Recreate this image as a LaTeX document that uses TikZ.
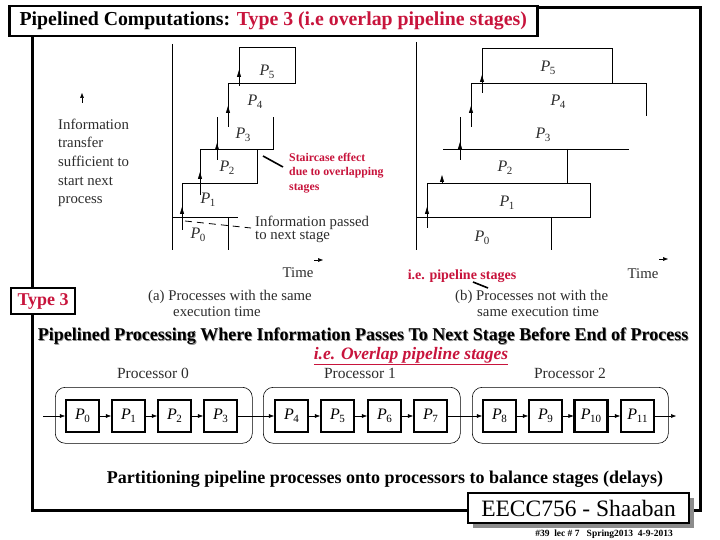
\documentclass[tikz,border=0pt]{standalone}
\usepackage{fontspec}
\setmainfont{Liberation Serif}
\usetikzlibrary{arrows.meta}
\definecolor{tred}{RGB}{200,20,60}
\definecolor{figtext}{RGB}{45,45,45}
\newcommand\PL[1]{{\itshape P}\kern-0.3pt\raisebox{-0.45ex}{\fontsize{11}{11}\selectfont #1}}
\begin{document}
\begin{tikzpicture}[x=1pt,y=-1pt,
  fl/.style={line width=0.8pt,black},
  upa/.style={line width=0.8pt,-{Triangle[length=7pt,width=4pt]}},
  sma/.style={line width=0.6pt,-{Triangle[length=5pt,width=3.6pt]}},
  ftxt/.style={anchor=base west,inner sep=0,text=figtext,font=\fontsize{14.8}{16}\selectfont},
  plab/.style={inner sep=0,text=figtext,font=\fontsize{16}{16}\selectfont},
  redb/.style={anchor=base west,inner sep=0,text=tred,font=\fontsize{11.8}{13}\bfseries},
  pbox/.style={draw,line width=2.2pt,minimum width=33pt,minimum height=32pt,inner sep=0,font=\fontsize{16}{16}\selectfont},
  grp/.style={draw,line width=0.6pt,rounded corners=10pt},
  plabel/.style={inner sep=0,font=\fontsize{15.5}{17}\selectfont,text=figtext}
]
\useasboundingbox (0,0) rectangle (720,540);
\fill[white] (0,0) rectangle (720,540);
% main frame
\draw[line width=3pt] (32,8) rectangle (700,510);
% title box
\node[draw,line width=2.5pt,fill=white,minimum width=528pt,minimum height=30pt,inner sep=0,anchor=north west,
  font=\fontsize{19.8}{22}\bfseries\selectfont] (title) at (8,5)
  {Pipelined Computations: \textcolor{tred}{Type 3 (i.e overlap pipeline stages)}};
% Type 3 box
\node[draw,line width=2.2pt,fill=white,minimum width=64pt,minimum height=26pt,inner sep=0,anchor=north west,
  text=tred,font=\fontsize{18}{20}\bfseries\selectfont] (type3) at (10,287) {Type 3};

% ---------- diagram (a) ----------
\draw[fl] (172,44) -- (172,250);
\draw[fl] (172,217) -- (238,217);
\draw[fl] (228,217) -- (228,250);
\draw[fl] (182,217) -- (182,183) -- (257,183) -- (257,149);
\draw[fl] (200,183) -- (200,149) -- (273,149) -- (273,117);
\draw[fl] (217,149) -- (217,117);
\draw[fl] (228,127) -- (228,83) -- (295,83) -- (295,47) -- (239,47) -- (239,83);
\coordinate (a1s) at (182,230); \coordinate (a1e) at (182,207);
\coordinate (a2s) at (200,195); \coordinate (a2e) at (200,172);
\coordinate (a3s) at (217,160); \coordinate (a3e) at (217,143);
\coordinate (a4s) at (228,127); \coordinate (a4e) at (228,106);
\coordinate (a5s) at (239,86);  \coordinate (a5e) at (239,70);
\draw[upa] (a1s) -- (a1e);
\draw[upa] (a2s) -- (a2e);
\draw[upa] (a3s) -- (a3e);
\draw[upa] (a4s) -- (a4e);
\draw[upa] (a5s) -- (a5e);
\node[plab] (aP0) at (198,235) {\PL{0}};
\node[plab] (aP1) at (208,200) {\PL{1}};
\node[plab] (aP2) at (227,168) {\PL{2}};
\node[plab] (aP3) at (243,135) {\PL{3}};
\node[plab] (aP4) at (255,102) {\PL{4}};
\node[plab] (aP5) at (267,72) {\PL{5}};
% info text left
\coordinate (ia1) at (82,103); \coordinate (ia2) at (82,93);
\draw[sma] (ia1) -- (ia2);
\node[ftxt] (it1) at (58,130) {Information};
\node[ftxt] (it2) at (58,148) {transfer};
\node[ftxt] (it3) at (58,167) {sufficient to};
\node[ftxt] (it4) at (58,186) {start next};
\node[ftxt] (it5) at (58,204) {process};
% information passed
\coordinate (ip1) at (185,221); \coordinate (ip2) at (251,228);
\draw[line width=0.8pt,dash pattern=on 7pt off 5pt] (ip1) -- (ip2);
\node[ftxt] (ipt1) at (255,226) {Information passed};
\node[ftxt] (ipt2) at (255,240) {to next stage};
% staircase
\coordinate (sc1) at (263,156); \coordinate (sc2) at (283,167);
\draw[line width=1.6pt] (sc1) -- (sc2);
\node[redb] (st1) at (289,162) {Staircase effect};
\node[redb] (st2) at (289,176) {due to overlapping};
\node[redb] (st3) at (289,191) {stages};
% time (a)
\coordinate (ta1) at (314,260); \coordinate (ta2) at (323,260);
\draw[sma] (ta1) -- (ta2);
\node[ftxt,anchor=base] (timea) at (298,277) {Time};
\node[ftxt] (capa1) at (148,300) {(a) Processes with the same};
\node[ftxt] (capa2) at (173,316) {execution time};

% ---------- diagram (b) ----------
\draw[fl] (416,42) -- (416,250);
\draw[fl] (416,217) -- (427,217);
\draw[fl] (427,183) rectangle (590,217);
\draw[fl] (551,217) -- (551,250);
\draw[fl] (443,149) -- (629,149);
\draw[fl] (567,149) -- (567,183);
\draw[fl] (460,117) -- (460,160);
\draw[fl] (471,127) -- (471,83) -- (646,83) -- (646,116);
\draw[fl] (482,83) -- (482,48) -- (612,48) -- (612,83);
\coordinate (b1s) at (427,228); \coordinate (b1e) at (427,207);
\coordinate (b2s) at (442,184); \coordinate (b2e) at (442,175);
\coordinate (b3s) at (460,160); \coordinate (b3e) at (460,142);
\coordinate (b4s) at (471,127); \coordinate (b4e) at (471,106);
\coordinate (b5s) at (482,93);  \coordinate (b5e) at (482,75);
\draw[upa] (b1s) -- (b1e);
\draw[upa] (b2s) -- (b2e);
\draw[upa] (b3s) -- (b3e);
\draw[upa] (b4s) -- (b4e);
\draw[upa] (b5s) -- (b5e);
\node[plab] (bP0) at (482,238) {\PL{0}};
\node[plab] (bP1) at (507,203) {\PL{1}};
\node[plab] (bP2) at (505,168) {\PL{2}};
\node[plab] (bP3) at (543,135) {\PL{3}};
\node[plab] (bP4) at (558,102) {\PL{4}};
\node[plab] (bP5) at (548,68) {\PL{5}};
\coordinate (tb1) at (659,259); \coordinate (tb2) at (668,259);
\draw[sma] (tb1) -- (tb2);
\node[ftxt,anchor=base] (timeb) at (643,278) {Time};
\node[redb,font=\fontsize{14}{16}\bfseries,anchor=base] (ips) at (462,279) {i.e. pipeline stages};
\coordinate (ip3) at (473,282); \coordinate (ip4) at (488,288);
\draw[line width=1.6pt] (ip3) -- (ip4);
\node[ftxt] (capb1) at (455,300) {(b) Processes not with the};
\node[ftxt] (capb2) at (477,316) {same execution time};

% ---------- heading ----------
\node[inner sep=0,anchor=base,text=black!45,font=\fontsize{18}{20}\bfseries\selectfont] (headsh) at (363.8,341)
  {Pipelined Processing Where Information Passes To Next Stage Before End of Process};
\node[inner sep=0,anchor=base,font=\fontsize{18}{20}\bfseries\selectfont] (head) at (363,340.2)
  {Pipelined Processing Where Information Passes To Next Stage Before End of Process};
\node[inner sep=0,anchor=base,text=tred,font=\fontsize{17.5}{19}\bfseries\itshape\selectfont] (ovl) at (411,359)
  {\underline{i.e. Overlap pipeline stages}};

% ---------- processors ----------
\node[grp,minimum width=197pt,minimum height=56pt,anchor=north west] (g0) at (55,387) {};
\node[grp,minimum width=197pt,minimum height=56pt,anchor=north west] (g1) at (263,387) {};
\node[grp,minimum width=196pt,minimum height=56pt,anchor=north west] (g2) at (472,387) {};
\node[plabel] (pr0) at (153,373) {Processor 0};
\node[plabel] (pr1) at (360,373) {Processor 1};
\node[plabel] (pr2) at (570,373) {Processor 2};
\node[pbox] (p0) at (82.5,416) {\PL{0}};
\node[pbox] (p1) at (128.5,416) {\PL{1}};
\node[pbox] (p2) at (174.5,416) {\PL{2}};
\node[pbox] (p3) at (220.5,416) {\PL{3}};
\node[pbox] (p4) at (291.5,416) {\PL{4}};
\node[pbox] (p5) at (337.5,416) {\PL{5}};
\node[pbox] (p6) at (384.5,416) {\PL{6}};
\node[pbox] (p7) at (430.5,416) {\PL{7}};
\node[pbox] (p8) at (499.5,416) {\PL{8}};
\node[pbox] (p9) at (545.5,416) {\PL{9}};
\node[pbox] (p10) at (591,416) {\PL{10}};
\node[pbox] (p11) at (637.5,416) {\PL{11}};
\coordinate (pin) at (43,416);
\coordinate (pout) at (676,416);
\draw[sma] (pin) -- (p0);
\foreach \a/\b in {p0/p1,p1/p2,p2/p3,p3/p4,p4/p5,p5/p6,p6/p7,p7/p8,p8/p9,p9/p10,p10/p11}
  \draw[sma] (\a) -- (\b);
\draw[sma] (p11) -- (pout);

\node[inner sep=0,anchor=base,font=\fontsize{18}{20}\bfseries\selectfont] (part) at (385,483)
  {Partitioning pipeline processes onto processors to balance stages (delays)};

% ---------- footer ----------
\fill[black!45] (473,498) rectangle (694,528);
\node[draw,line width=2pt,fill=white,minimum width=221pt,minimum height=30pt,inner sep=0,anchor=north west,
  font=\fontsize{23.5}{25}\selectfont] (eecc) at (467,492) {EECC756 - Shaaban};
\node[inner sep=0,anchor=base,font=\fontsize{9.5}{10}\bfseries\selectfont] (foot) at (604,536)
  {\#39~~lec \# 7~~~Spring2013~~4-9-2013};
\end{tikzpicture}
\end{document}
